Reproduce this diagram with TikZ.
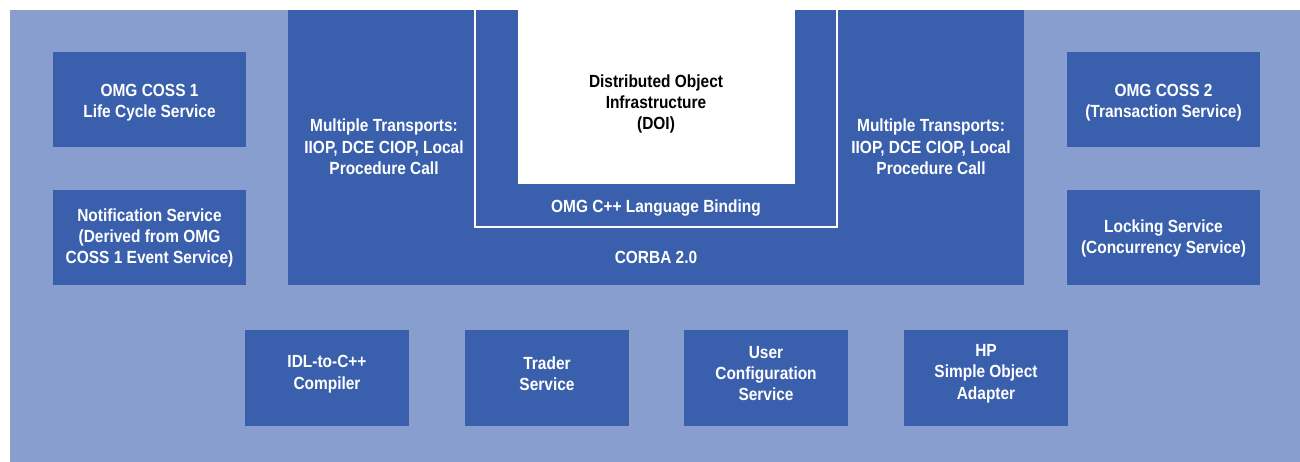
\documentclass[tikz,border=0pt]{standalone}
\usepackage{fontspec}
\setmainfont{Liberation Sans}[FakeStretch=0.88]
\definecolor{lblue}{RGB}{136,158,206}
\definecolor{dblue}{RGB}{58,96,173}
\begin{document}
\begin{tikzpicture}[x=0.02cm,y=-0.02cm,
  lbl/.style={font=\bfseries\fontsize{10}{12.2}\selectfont, align=center, inner sep=0pt},
  wlbl/.style={lbl, text=white},
  boxfill/.style={fill=dblue}]
  \useasboundingbox (0,0) rectangle (1300,462);
  % background panel
  \fill[lblue] (10,10) rectangle (1300,462);
  % CORBA core block
  \fill[boxfill] (288,10) rectangle (1024,285);
  % language binding frame (open at the top)
  \draw[white, line width=1.2pt] (475,9) -- (475,227) -- (837,227) -- (837,9);
  % DOI box
  \fill[white] (518,10) rectangle (795,184);
  \node[lbl, text=black] (doi) at (656,104) {Distributed Object\\Infrastructure\\(DOI)};
  \node[wlbl] (binding) at (656,208) {OMG C++ Language Binding};
  \node[wlbl] (corba) at (656,257.5) {CORBA 2.0};
  \node[wlbl] (transL) at (384,147) {Multiple Transports:\\IIOP, DCE CIOP, Local\\Procedure Call};
  \node[wlbl] (transR) at (931,147) {Multiple Transports:\\IIOP, DCE CIOP, Local\\Procedure Call};
  % side services
  \fill[boxfill] (53,52) rectangle (246,147);
  \fill[boxfill] (53,190) rectangle (246,285);
  \fill[boxfill] (1067,52) rectangle (1260,147);
  \fill[boxfill] (1067,190) rectangle (1260,285);
  \node[wlbl] (coss1) at (149.5,102.5) {OMG COSS 1\\Life Cycle Service};
  \node[wlbl] (notify) at (149.5,238) {Notification Service\\(Derived from OMG\\COSS 1 Event Service)};
  \node[wlbl] (coss2) at (1163.5,102.5) {OMG COSS 2\\(Transaction Service)};
  \node[wlbl] (lock) at (1163.5,238.5) {Locking Service\\(Concurrency Service)};
  % bottom row
  \fill[boxfill] (245,330) rectangle (409,426);
  \fill[boxfill] (465,330) rectangle (629,426);
  \fill[boxfill] (684,330) rectangle (848,426);
  \fill[boxfill] (904,330) rectangle (1068,426);
  \node[wlbl] (idl) at (327,374) {IDL-to-C++\\Compiler};
  \node[wlbl] (trader) at (547,373.5) {Trader\\Service};
  \node[wlbl] (ucfg) at (766,373.5) {User\\Configuration\\Service};
  \node[wlbl] (hpsoa) at (986,373.5) {HP\\Simple Object\\Adapter};
\end{tikzpicture}
\end{document}
